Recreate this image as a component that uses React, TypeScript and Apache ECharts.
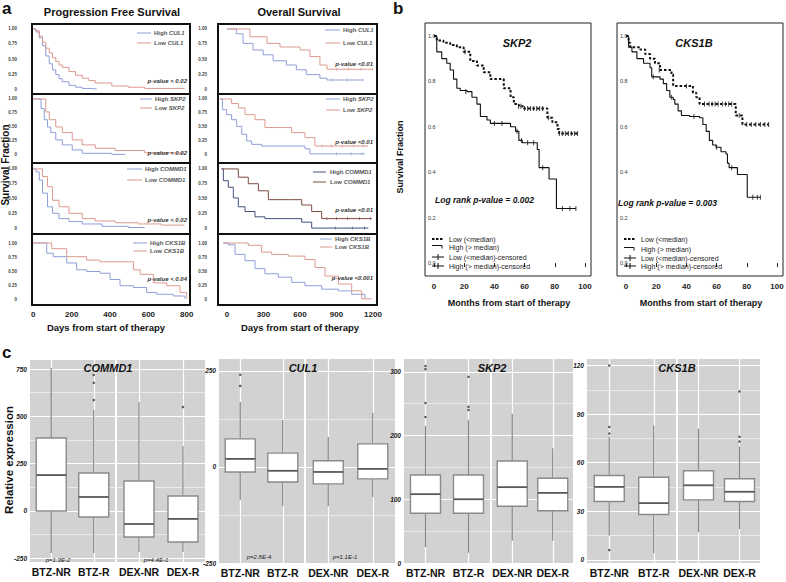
import React, { useEffect, useRef } from "react";
import * as echarts from "echarts";

const FONT = '"Liberation Sans", Arial, Helvetica, sans-serif';

// ---------------- Panel a : Kaplan-Meier curves (days, survival fraction) ----------------
const aGenes = ["CUL1", "SKP2", "COMMD1", "CKS1B"];
const pfsTicks = [0, 200, 400, 600, 800];
const osTicks = [0, 300, 600, 900, 1200];
const survTicks = [0, 0.25, 0.5, 0.75, 1];
const pfsPValues = ["p-value < 0.02", "p-value < 0.02", "p-value < 0.02", "p-value < 0.04"];
const osPValues = ["p-value <0.01", "p-value <0.01", "p-value <0.01", "p-value <0.001"];

const pfsCul1High = [[0, 1], [14, 0.95], [31, 0.85], [48, 0.72], [65, 0.55], [83, 0.42], [100, 0.32], [117, 0.24], [134, 0.17], [151, 0.12], [186, 0.06], [220, 0.03], [255, 0.01], [300, 0], [330, 0]];
const pfsCul1Low = [[0, 1], [14, 0.97], [31, 0.88], [48, 0.78], [65, 0.68], [83, 0.6], [100, 0.52], [117, 0.46], [134, 0.4], [151, 0.36], [186, 0.29], [220, 0.23], [255, 0.18], [289, 0.14], [323, 0.1], [409, 0.05], [495, 0.03], [581, 0.01], [790, 0.01]];
const pfsSkp2High = [[0, 1], [20, 1], [40, 0.83], [57, 0.63], [74, 0.5], [91, 0.4], [117, 0.27], [151, 0.18], [203, 0.09], [255, 0.03], [409, 0.01], [480, 0]];
const pfsSkp2Low = [[0, 1], [48, 1], [65, 0.77], [83, 0.63], [117, 0.5], [151, 0.4], [203, 0.27], [255, 0.18], [323, 0.12], [427, 0.08], [581, 0.04], [719, 0.03], [788, 0.02]];
const pfsCommd1High = [[0, 1], [14, 0.95], [31, 0.81], [48, 0.59], [74, 0.36], [100, 0.25], [134, 0.16], [186, 0.11], [255, 0.07], [358, 0.03], [495, 0.01], [581, 0]];
const pfsCommd1Low = [[0, 1], [48, 0.87], [74, 0.7], [100, 0.47], [134, 0.36], [186, 0.25], [255, 0.16], [323, 0.12], [427, 0.09], [547, 0.07], [667, 0.05], [788, 0.05]];
const pfsCks1bHigh = [[0, 1], [52, 1], [70, 0.82], [104, 0.76], [174, 0.65], [226, 0.53], [278, 0.5], [348, 0.47], [400, 0.36], [452, 0.25], [522, 0.22], [591, 0.13], [643, 0.1], [730, 0.07], [790, 0.02]];
const pfsCks1bLow = [[0, 1], [52, 1], [96, 0.9], [174, 0.76], [278, 0.7], [348, 0.67], [435, 0.67], [522, 0.53], [557, 0.45], [626, 0.3], [696, 0.25], [765, 0.13], [800, 0.02]];

const osCul1High = [[0, 1], [25, 1], [77, 0.92], [132, 0.76], [214, 0.65], [297, 0.57], [379, 0.47], [488, 0.4], [570, 0.32], [652, 0.24], [764, 0.18], [822, 0.15], [1118, 0.15]];
const osCul1Low = [[0, 1], [132, 1], [189, 0.87], [329, 0.76], [436, 0.7], [600, 0.65], [682, 0.54], [764, 0.4], [822, 0.33], [1200, 0.33]];
const osSkp2High = [[-58, 1], [-38, 0.81], [-3, 0.72], [38, 0.63], [79, 0.51], [121, 0.37], [162, 0.25], [203, 0.19], [285, 0.16], [586, 0.16], [641, 0.11], [682, 0.02], [1134, 0.02]];
const osSkp2Low = [[-58, 1], [11, 1], [38, 0.92], [93, 0.84], [148, 0.72], [230, 0.63], [312, 0.49], [449, 0.49], [532, 0.4], [641, 0.31], [723, 0.16], [1162, 0.16]];
const osCommd1High = [[-44, 1], [-30, 0.8], [11, 0.69], [52, 0.51], [93, 0.36], [148, 0.28], [230, 0.19], [312, 0.16], [504, 0.16], [614, 0.1], [696, 0], [1162, 0]];
const osCommd1Low = [[-44, 1], [66, 1], [93, 0.86], [175, 0.75], [258, 0.63], [340, 0.48], [504, 0.48], [614, 0.39], [696, 0.28], [778, 0.16], [1189, 0.16]];
const osCks1bHigh = [[-30, 1], [11, 0.97], [66, 0.8], [148, 0.69], [230, 0.55], [312, 0.46], [422, 0.4], [532, 0.31], [641, 0.25], [778, 0.19], [915, 0.16], [1025, 0.1], [1134, 0.02]];
const osCks1bLow = [[-30, 1], [93, 1], [175, 0.96], [285, 0.84], [367, 0.8], [504, 0.77], [641, 0.71], [723, 0.57], [806, 0.42], [915, 0.28], [1025, 0.16], [1107, 0.02], [1189, 0.02]];

const osCul1HighCens = [[863, 0.15], [986, 0.15], [1118, 0.15]];
const osCul1LowCens = [[900, 0.33], [1000, 0.33], [1100, 0.33], [1195, 0.33]];
const osSkp2HighCens = [[900, 0.02], [1020, 0.02], [1110, 0.02]];
const osSkp2LowCens = [[780, 0.16], [860, 0.16], [950, 0.16], [1040, 0.16], [1120, 0.16]];
const osCommd1HighCens = [[890, 0], [1030, 0], [1130, 0]];
const osCommd1LowCens = [[820, 0.16], [900, 0.16], [990, 0.16], [1090, 0.16], [1180, 0.16]];

// ---------------- Panel b : Kaplan-Meier curves (months) ----------------
const monthTicks = [0, 20, 40, 60, 80, 100];
const fracTicks = [0, 0.2, 0.4, 0.6, 0.8, 1];
const bLegend = ["Low (<median)", "High (> median)", "Low (<median)-censored", "High (> median)-censored"];

const skp2Low = [[0, 1], [1.8, 0.98], [6.2, 0.97], [10.7, 0.96], [15.1, 0.95], [19.6, 0.93], [24, 0.89], [28.4, 0.87], [32.9, 0.84], [37.3, 0.81], [46.2, 0.77], [50.7, 0.73], [52.9, 0.7], [56.2, 0.69], [59.6, 0.68], [75.1, 0.64], [78.4, 0.62], [81.8, 0.59], [82.9, 0.57], [95.1, 0.57]];
const skp2High = [[0, 1], [1.8, 0.93], [5.1, 0.9], [8.4, 0.88], [10.7, 0.85], [12.9, 0.81], [15.1, 0.77], [17.3, 0.76], [21.8, 0.755], [25.1, 0.73], [28.4, 0.7], [30.7, 0.645], [35.1, 0.63], [37.3, 0.615], [50.7, 0.6], [54, 0.58], [56.2, 0.54], [58.4, 0.53], [68.4, 0.5], [69.6, 0.42], [76.2, 0.37], [81.1, 0.24], [94, 0.24]];
const cks1bLow = [[0, 1], [1.7, 0.97], [2.8, 0.95], [9.4, 0.94], [12.7, 0.92], [15.9, 0.9], [19.2, 0.88], [22.5, 0.85], [30.1, 0.83], [31.2, 0.78], [44.3, 0.75], [46.5, 0.73], [48.7, 0.7], [72.7, 0.65], [77.1, 0.61], [94.5, 0.61]];
const cks1bHigh = [[0, 1], [1.7, 0.95], [3.9, 0.93], [7.2, 0.9], [11.6, 0.88], [15.9, 0.86], [17, 0.82], [22.5, 0.81], [24.7, 0.79], [26.9, 0.76], [29, 0.73], [31.2, 0.72], [32.3, 0.7], [34.5, 0.67], [36.7, 0.65], [42.1, 0.645], [48.7, 0.64], [50.9, 0.61], [53.1, 0.58], [55.2, 0.54], [57.4, 0.52], [59.6, 0.51], [62.9, 0.49], [66.2, 0.48], [67.2, 0.44], [68.3, 0.42], [73.8, 0.39], [80.3, 0.29], [89.1, 0.29]];

const skp2LowCens = [[20.5, 0.93], [56, 0.69], [57.5, 0.69], [60, 0.68], [62, 0.68], [64, 0.68], [66, 0.68], [68, 0.68], [70, 0.68], [72, 0.68], [76, 0.64], [83, 0.57], [85, 0.57], [87, 0.57], [89, 0.57], [91, 0.57], [93, 0.57], [95, 0.57]];
const skp2HighCens = [[21, 0.755], [40, 0.615], [45, 0.615], [55, 0.58], [58, 0.54], [62, 0.53], [66, 0.53], [72, 0.42], [85, 0.24], [90, 0.24], [94, 0.24]];
const cks1bLowCens = [[22, 0.85], [40, 0.78], [52, 0.7], [55, 0.7], [57, 0.7], [59, 0.7], [61, 0.7], [64, 0.7], [66, 0.7], [68, 0.7], [70, 0.7], [75, 0.65], [80, 0.61], [83, 0.61], [86, 0.61], [89, 0.61], [92, 0.61], [94.5, 0.61]];
const cks1bHighCens = [[18, 0.82], [30, 0.73], [45, 0.645], [60, 0.51], [70, 0.42], [84, 0.29], [87, 0.29], [89, 0.29]];

// ---------------- Panel c : boxplots [min, Q1, median, Q3, max] ----------------
const btzCats = ["BTZ-NR", "BTZ-R"];
const dexCats = ["DEX-NR", "DEX-R"];

const commd1Box = [[-223, -1, 189, 385, 756], [-223, -33, 73, 200, 533], [-218, -139, -70, 158, 576], [-218, -165, -43, 78, 343]];
const commd1Out = [[1, 586], [1, 677], [1, 719], [3, 549]];
const cul1Box = [[-86, -13, 21, 73, 169], [-102, -39, -10, 36, 122], [-102, -44, -13, 16, 78], [-78, -31, -5, 60, 141]];
const cul1Out = [[0, 240], [0, 211]];
const skp2Box = [[25, 78, 108, 138, 215], [16, 78, 100, 138, 224], [35, 89, 119, 160, 234], [35, 82, 110, 133, 180]];
const skp2Out = [[0, 309], [0, 304], [0, 251], [0, 229], [1, 292], [1, 245], [1, 240]];
const cks1bBox = [[15, 36, 45, 52, 76], [4, 28, 35, 51, 83], [17, 37, 46, 55, 81], [19, 36, 42, 50, 70]];
const cks1bOut = [[0, 120], [0, 82], [0, 78], [0, 6], [3, 104], [3, 76], [3, 73]];

const commd1Major = [-250, 0, 250, 500, 750];
const commd1Minor = [-125, 125, 375, 625];
const cul1Major = [-250, 0, 250];
const cul1Minor = [-125, 125];
const skp2Major = [0, 100, 200, 300];
const skp2Minor = [50, 150, 250];
const cks1bMajor = [0, 30, 60, 90, 120];
const cks1bMinor = [15, 45, 75, 105];

const lightBlue = "#8e9fd8";
const lightRed = "#dc9a8e";
const darkBlue = "#44507e";
const darkRed = "#7d4c42";

function boxRender(params: any, api: any) {
  const x = api.value(0);
  const p = [1, 2, 3, 4, 5].map((k) => api.coord([x, api.value(k)]));
  const cx = p[0][0];
  const hw = 15;
  const grey = "#858585";
  return {
    type: "group",
    children: [
      { type: "line", shape: { x1: cx, y1: p[0][1], x2: cx, y2: p[1][1] }, style: { stroke: grey, lineWidth: 1.2 } },
      { type: "line", shape: { x1: cx, y1: p[3][1], x2: cx, y2: p[4][1] }, style: { stroke: grey, lineWidth: 1.2 } },
      { type: "rect", shape: { x: cx - hw, y: p[3][1], width: 2 * hw, height: p[1][1] - p[3][1] }, style: { fill: "#ffffff", stroke: "#8a8a8a", lineWidth: 1.4 } },
      { type: "line", shape: { x1: cx - hw, y1: p[2][1], x2: cx + hw, y2: p[2][1] }, style: { stroke: "#595959", lineWidth: 1.8 } },
    ],
  };
}

function buildOption() {
  const grid: any[] = [];
  const xAxis: any[] = [];
  const yAxis: any[] = [];
  const series: any[] = [];
  const graphic: any[] = [];

  const add = (g: any, xa: any, ya: any) => {
    const i = grid.length;
    grid.push({ outerBoundsMode: "none", containLabel: false, ...g });
    xAxis.push({ ...xa, gridIndex: i });
    yAxis.push({ ...ya, gridIndex: i });
    return i;
  };
  const txt = (text: string, x: number, y: number, size: number, o: any = {}) => ({
    type: "text",
    x,
    y,
    rotation: o.rot || 0,
    silent: true,
    z: 100,
    style: {
      text,
      fill: o.color || "#111",
      fontSize: size,
      fontWeight: o.weight || "bold",
      fontStyle: o.italic ? "italic" : "normal",
      fontFamily: FONT,
      align: o.align || "center",
      verticalAlign: o.va || "middle",
      rich: o.rich,
    },
  });
  const seg = (x1: number, y1: number, x2: number, y2: number, stroke: string, lw = 1, dash?: number[]) => ({
    type: "line",
    silent: true,
    z: 100,
    shape: { x1, y1, x2, y2 },
    style: { stroke, lineWidth: lw, lineDash: dash },
  });
  const km = (i: number, data: number[][], color: string, width = 1, type: any = "solid") => ({
    type: "line",
    xAxisIndex: i,
    yAxisIndex: i,
    data,
    step: "end",
    symbol: "none",
    showSymbol: false,
    silent: true,
    z: 3,
    lineStyle: { color, width, type },
  });
  const cens = (i: number, data: number[][], color: string, size: number[]) => ({
    type: "scatter",
    xAxisIndex: i,
    yAxisIndex: i,
    data,
    symbol: "rect",
    symbolSize: size,
    itemStyle: { color },
    silent: true,
    z: 4,
  });

  // ---------- Panel a ----------
  const aRows = [
    { top: 24, h: 70, min: -0.083, max: 1.083 },
    { top: 94, h: 69, min: -0.143, max: 1.089 },
    { top: 163, h: 71, min: -0.1, max: 1.1 },
    { top: 234, h: 71, min: -0.088, max: 1.158 },
  ];
  const aCols = [
    {
      left: 32, w: 158, min: -7, max: 817, ticks: pfsTicks, margin: 15, pv: pfsPValues, pvX: 187, pvY: [81, 153, 220, 279],
      curves: [[pfsCul1High, pfsCul1Low], [pfsSkp2High, pfsSkp2Low], [pfsCommd1High, pfsCommd1Low], [pfsCks1bHigh, pfsCks1bLow]],
      cens: [[[], []], [[], []], [[], []], [[], []]],
      leg: [
        { y: [33, 43], l: [137, 151], t: 154 },
        { y: [99, 108], l: [140, 152], t: 155 },
        { y: [169, 180], l: [127, 142], t: 145 },
        { y: [243, 251], l: [133, 147], t: 150 },
      ],
    },
    {
      left: 218, w: 159, min: -74, max: 1233, ticks: osTicks, margin: 11, pv: osPValues, pvX: 373, pvY: [64, 142, 210, 278],
      curves: [[osCul1High, osCul1Low], [osSkp2High, osSkp2Low], [osCommd1High, osCommd1Low], [osCks1bHigh, osCks1bLow]],
      cens: [[osCul1HighCens, osCul1LowCens], [osSkp2HighCens, osSkp2LowCens], [osCommd1HighCens, osCommd1LowCens], [[], []]],
      leg: [
        { y: [30, 43], l: [325, 340], t: 343 },
        { y: [99, 110], l: [326, 340], t: 343 },
        { y: [172, 182], l: [313, 326], t: 330 },
        { y: [239, 247], l: [320, 332], t: 335 },
      ],
    },
  ];
  aCols.forEach((col, c) => {
    aRows.forEach((row, r) => {
      const i = add(
        { left: col.left, top: row.top, width: col.w, height: row.h, show: true, borderColor: "#111", borderWidth: 2, backgroundColor: "transparent", z: 5 },
        {
          type: "value", min: col.min, max: col.max,
          axisLine: { show: false }, axisTick: { show: false }, splitLine: { show: false },
          axisLabel: r === 3
            ? { show: true, customValues: col.ticks, formatter: (v: number) => String(v), fontSize: 8, fontWeight: "bold", color: "#222", margin: 5, fontFamily: FONT }
            : { show: false },
        },
        {
          type: "value", min: row.min, max: row.max,
          axisLine: { show: false }, axisTick: { show: false }, splitLine: { show: false },
          axisLabel: {
            customValues: survTicks,
            formatter: (v: number) => (v === 0 ? "0" : v.toFixed(2)),
            fontSize: 4.5, fontWeight: "bold", color: "#444", margin: col.margin, fontFamily: FONT,
          },
        }
      );
      const dark = c === 1 && r === 2;
      const hiC = dark ? darkBlue : lightBlue;
      const loC = dark ? darkRed : lightRed;
      series.push(km(i, col.curves[r][0], hiC), km(i, col.curves[r][1], loC));
      if (col.cens[r][0].length) series.push(cens(i, col.cens[r][0], hiC, [0.8, 3]));
      if (col.cens[r][1].length) series.push(cens(i, col.cens[r][1], loC, [0.8, 3]));
      const lg = col.leg[r];
      graphic.push(seg(lg.l[0], lg.y[0], lg.l[1], lg.y[0], hiC, 1));
      graphic.push(seg(lg.l[0], lg.y[1], lg.l[1], lg.y[1], loC, 1));
      const rich = { i: { fontStyle: "italic", fontWeight: "bold", fontSize: 6, fontFamily: FONT, fill: "#555" } };
      graphic.push(txt("High {i|" + aGenes[r] + "}", lg.t, lg.y[0], 6, { align: "left", color: "#555", rich }));
      graphic.push(txt("Low {i|" + aGenes[r] + "}", lg.t, lg.y[1], 6, { align: "left", color: "#555", rich }));
      graphic.push(txt(col.pv[r], col.pvX, col.pvY[r], 6, { align: "right", italic: true, color: "#333" }));
    });
  });
  graphic.push(txt("a", 2, 8, 17, { align: "left" }));
  graphic.push(txt("Progression Free Survival", 112, 12, 11));
  graphic.push(txt("Overall Survival", 299, 12, 11));
  graphic.push(txt("Survival Fraction", 5, 165, 10, { rot: Math.PI / 2 }));
  graphic.push(txt("Days from start of therapy", 106, 327, 9.5));
  graphic.push(txt("Days from start of therapy", 300, 327, 9.5));

  // ---------- Panel b ----------
  const bPanels = [
    { left: 425, name: "SKP2", low: skp2Low, high: skp2High, lowC: skp2LowCens, highC: skp2HighCens, p: "Log rank p-value = 0.002", px: 435, py: 200, tx: 517, legY: [239, 247, 257, 266], xl: 509 },
    { left: 617, name: "CKS1B", low: cks1bLow, high: cks1bHigh, lowC: cks1bLowCens, highC: cks1bHighCens, p: "Log rank p-value = 0.003", px: 618, py: 203, tx: 694, legY: [239, 249, 258, 266], xl: 701 },
  ];
  bPanels.forEach((p) => {
    const i = add(
      { left: p.left, top: 23, width: 166, height: 253, show: true, borderColor: "#222", borderWidth: 1, backgroundColor: "transparent" },
      {
        type: "value", min: -6, max: 104,
        axisLine: { show: false },
        axisTick: { show: true, customValues: monthTicks, length: 4, lineStyle: { color: "#222", width: 1 } },
        splitLine: { show: false },
        axisLabel: { customValues: monthTicks, fontSize: 8, fontWeight: "bold", color: "#222", margin: 6, fontFamily: FONT },
      },
      {
        type: "value", min: -0.057, max: 1.057,
        axisLine: { show: false }, axisTick: { show: false }, splitLine: { show: false },
        axisLabel: {
          inside: true, customValues: fracTicks, formatter: (v: number) => v.toFixed(1),
          fontSize: 5.5, color: "#333", margin: 3, fontFamily: FONT,
        },
      }
    );
    series.push(km(i, p.low, "#111", 2, [2.5, 2]));
    series.push(km(i, p.high, "#111", 1.1));
    series.push(cens(i, p.lowC, "#111", [1, 5]));
    series.push(cens(i, p.highC, "#111", [1, 5]));
    graphic.push(txt(p.name, p.tx, 43, 11, { italic: true }));
    graphic.push(txt(p.p, p.px, p.py, 8.5, { italic: true, align: "left" }));
    graphic.push(txt("Months from start of therapy", p.xl, 303, 9));
    const L = p.left;
    const y = p.legY;
    graphic.push(seg(L + 7, y[0], L + 19, y[0], "#111", 2, [2.5, 1.5]));
    graphic.push({ type: "polyline", silent: true, z: 100, shape: { points: [[L + 7, y[1] - 1.5], [L + 17, y[1] - 1.5], [L + 17, y[1] + 1.5]] }, style: { stroke: "#111", lineWidth: 1, fill: null } });
    [2, 3].forEach((k) => {
      graphic.push(seg(L + 7, y[k], L + 19, y[k], "#111", 1));
      graphic.push(seg(L + 13, y[k] - 3, L + 13, y[k] + 3, "#111", 1));
    });
    bLegend.forEach((t, k) => graphic.push(txt(t, L + 24, y[k], 7, { align: "left", weight: "normal", color: "#222" })));
  });
  graphic.push(txt("b", 393, 8, 17, { align: "left" }));
  graphic.push(txt("Survival Fraction", 400, 157, 9, { rot: Math.PI / 2 }));

  // ---------- Panel c ----------
  const cPanels = [
    { name: "COMMD1", min: -271, max: 798, major: commd1Major, minor: commd1Minor, box: commd1Box, out: commd1Out, facets: [[30, 85], [117, 88]], top: 360, h: 202, tx: 108, pv: ["p=1.3E-2", "p=4.4E-1"], pvX: [58, 156], pvY: 560 },
    { name: "CUL1", min: -250, max: 281, major: cul1Major, minor: cul1Minor, box: cul1Box, out: cul1Out, facets: [[219, 85], [306, 89]], top: 359, h: 204, tx: 303, pv: ["p=2.8E-4", "p=1.1E-1"], pvX: [259, 345], pvY: 557 },
    { name: "SKP2", min: 0, max: 320, major: skp2Major, minor: skp2Minor, box: skp2Box, out: skp2Out, facets: [[404, 86], [492, 81]], top: 359, h: 204, tx: 492, pv: [], pvX: [], pvY: 0 },
    { name: "CKS1B", min: -2, max: 124, major: cks1bMajor, minor: cks1bMinor, box: cks1bBox, out: cks1bOut, facets: [[587, 89], [678, 82]], top: 359, h: 204, tx: 677, pv: [], pvX: [], pvY: 0 },
  ];
  cPanels.forEach((p) => {
    p.facets.forEach((f, fi) => {
      const cats = fi === 0 ? btzCats : dexCats;
      const i = add(
        { left: f[0], top: p.top, width: f[1], height: p.h, show: true, backgroundColor: "#d2d2d2", borderWidth: 0 },
        {
          type: "category", data: cats, boundaryGap: true,
          axisLine: { show: false }, axisTick: { show: false }, splitLine: { show: false },
          axisLabel: { interval: 0, fontSize: 10.5, fontWeight: "bold", color: "#111", margin: 4, fontFamily: FONT },
        },
        {
          type: "value", min: p.min, max: p.max,
          axisLine: { show: false },
          axisTick: { show: false, customValues: p.major },
          splitLine: { show: true, lineStyle: { color: "#ffffff", width: 1.2 } },
          axisLabel: fi === 0
            ? { customValues: p.major, fontSize: 6.5, fontWeight: "bold", fontStyle: "italic", color: "#222", margin: 3, fontFamily: FONT }
            : { show: false },
        }
      );
      series.push({
        type: "line", xAxisIndex: i, yAxisIndex: i, data: [], z: 1, silent: true,
        markLine: {
          z: 1, silent: true, symbol: ["none", "none"], label: { show: false }, animation: false,
          lineStyle: { color: "#ffffff", width: 1.2, type: "solid" },
          data: [
            ...cats.map((c) => ({ xAxis: c })),
            ...p.minor.map((v) => ({ yAxis: v, lineStyle: { color: "#f0f0f0", width: 0.8, type: "solid" } })),
          ],
        },
      });
      const boxes = p.box.slice(fi * 2, fi * 2 + 2).map((b, k) => [k, ...b]);
      series.push({
        type: "custom", xAxisIndex: i, yAxisIndex: i, z: 10, silent: true,
        data: boxes,
        encode: { x: 0, y: [1, 2, 3, 4, 5] },
        renderItem: boxRender,
      });
      const outs = p.out.filter((o) => (fi === 0 ? o[0] < 2 : o[0] >= 2)).map((o) => [o[0] - fi * 2, o[1]]);
      if (outs.length) {
        series.push({
          type: "scatter", xAxisIndex: i, yAxisIndex: i, z: 11, silent: true,
          data: outs, symbolSize: 2.5, itemStyle: { color: "#333" },
        });
      }
    });
    graphic.push(txt(p.name, p.tx, 368, 11, { italic: true }));
    p.pv.forEach((t, k) => graphic.push(txt(t, p.pvX[k], p.pvY, 6, { italic: true, weight: "normal", color: "#222" })));
  });
  graphic.push(txt("c", 2, 352, 17, { align: "left" }));
  graphic.push(txt("Relative expression", 9, 460, 11.5, { rot: Math.PI / 2 }));

  return {
    animation: false,
    backgroundColor: "#ffffff",
    textStyle: { fontFamily: FONT },
    grid,
    xAxis,
    yAxis,
    series,
    graphic,
  };
}

export default function App() {
  const ref = useRef<HTMLDivElement>(null);
  useEffect(() => {
    const chart = echarts.init(ref.current!, null, { renderer: "svg" });
    chart.setOption(buildOption() as any);
    return () => chart.dispose();
  }, []);
  return (
    <div
      ref={ref}
      style={{ position: "absolute", left: 0, top: 0, width: 786, height: 582, background: "#fff" }}
    />
  );
}
